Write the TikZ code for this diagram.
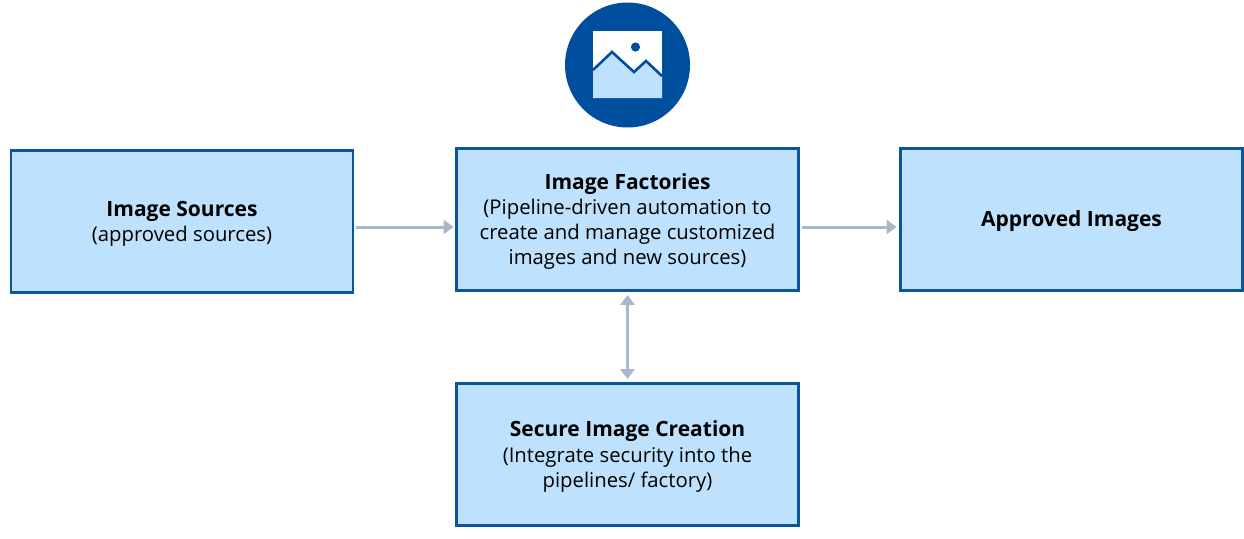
\documentclass[tikz,border=0pt]{standalone}
\usepackage{fontspec}
\setmainfont{Open Sans}
\usetikzlibrary{arrows.meta}
\definecolor{boxfill}{HTML}{BEE1FD}
\definecolor{boxline}{HTML}{0B559F}
\definecolor{darkblue}{HTML}{004F9F}
\definecolor{arrowgrey}{HTML}{A9B8C8}
\newcommand{\headline}[1]{\rule{0pt}{20pt}{\fontsize{21}{25}\selectfont\textbf{#1}}}
\tikzset{
  x=1pt,y=-1pt,
  box/.style={draw=boxline,fill=boxfill,line width=2.8pt,minimum width=342pt,minimum height=142pt,inner sep=0pt,align=center,font=\fontsize{20.3}{25.2}\selectfont,text=black},
  conn/.style={draw=arrowgrey,line width=3pt},
  tip/.style={-{Triangle[length=10pt,width=14pt]}},
  bothtip/.style={{Triangle[length=10pt,width=14pt]}-{Triangle[length=10pt,width=14pt]}}
}
\begin{document}
\begin{tikzpicture}
\useasboundingbox (0,0) rectangle (1244,538);
\node[box] (src) at (182,221.5) {\headline{Image Sources}\\(approved sources)};
\node[box] (fac) at (627.5,219.5) {\headline{Image Factories}\\(Pipeline-driven automation to\\create and manage customized\\images and new sources)};
\node[box] (app) at (1071.5,219.5) {\headline{Approved Images}};
\node[box] (sec) at (627.5,454.5) {\headline{Secure Image Creation}\\(Integrate security into the\\pipelines/ factory)};
\draw[conn,tip] ([shift={(2,5.5)}]src.east) -- ([shift={(-1.5,7.5)}]fac.west);
\draw[conn,tip] ([shift={(2,7.5)}]fac.east) -- ([shift={(-2.5,7.5)}]app.west);
\draw[conn,bothtip] ([shift={(0,3)}]fac.south) -- ([shift={(0,-3)}]sec.north);
\node[circle,fill=darkblue,minimum size=125pt,inner sep=0pt] (icon) at (627.5,65) {};
\fill[white] (593,31) rectangle (662,98);
\fill[boxfill] (593,70) -- (612,52) -- (634,72) -- (646,61) -- (662,76) -- (662,98) -- (593,98) -- cycle;
\draw[darkblue,line width=2.6pt] (593,70) -- (612,52) -- (634,72) -- (646,61) -- (662,76);
\fill[darkblue] (635.5,47) circle (4.6);
\end{tikzpicture}
\end{document}
